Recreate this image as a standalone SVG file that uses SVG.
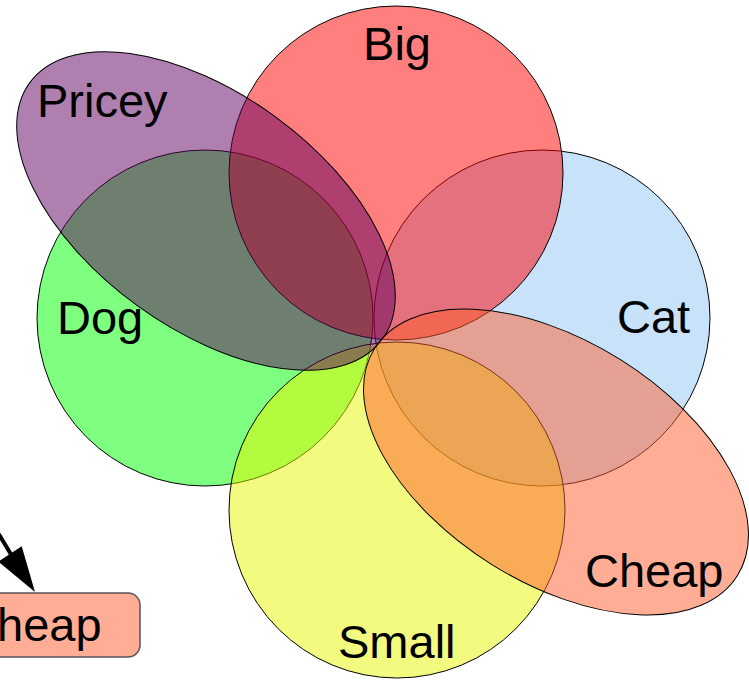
<svg xmlns="http://www.w3.org/2000/svg" width="749" height="680" viewBox="0 0 749 680">
  <defs>
    <style>
      .set { fill-opacity: 0.5; stroke: #000; stroke-width: 1; }
      .label { font-family: "Liberation Sans", Arial, sans-serif; font-size: 47px; fill: #000; }
      .box { fill: #ffae95; stroke: #555; stroke-width: 1.5; }
      .edge { stroke: #000; stroke-width: 4; fill: none; }
      .head { fill: #000; }
    </style>
  </defs>
  <rect width="749" height="680" fill="#fff"/>

  <!-- Venn sets, drawn bottom to top -->
  <g id="cat">
    <circle class="set" cx="542" cy="318" r="168" fill="#91c5f5"/>
    <text class="label" x="617" y="333">Cat</text>
  </g>
  <g id="dog">
    <circle class="set" cx="205" cy="318" r="168" fill="#00ff00"/>
    <text class="label" x="57" y="334">Dog</text>
  </g>
  <g id="big">
    <circle class="set" cx="396" cy="173" r="167" fill="#ff0000"/>
    <text class="label" x="397" y="60" text-anchor="middle">Big</text>
  </g>
  <g id="small">
    <circle class="set" cx="397" cy="510" r="168" fill="#e5f700"/>
    <text class="label" x="338" y="658">Small</text>
  </g>
  <g id="pricey">
    <ellipse class="set" cx="206" cy="211" rx="218" ry="117" transform="rotate(36 206 211)" fill="#600060"/>
    <text class="label" x="37" y="117">Pricey</text>
  </g>
  <g id="cheap">
    <ellipse class="set" cx="556" cy="462" rx="214" ry="121" transform="rotate(32 556 462)" fill="#ff5d2b"/>
    <text class="label" x="585" y="587">Cheap</text>
  </g>

  <!-- separate Cheap node at the lower left, partly off the page -->
  <g id="cheap-node">
    <rect class="box" x="-20" y="593" width="160" height="64" rx="12" ry="12"/>
    <text class="label" x="-3" y="641">heap</text>
  </g>

  <g id="connectors">
    <line class="edge" x1="-20" y1="503" x2="12" y2="556"/>
    <polygon class="head" points="35,592 -1.7,561.7 21.7,546.3"/>
  </g>
</svg>
